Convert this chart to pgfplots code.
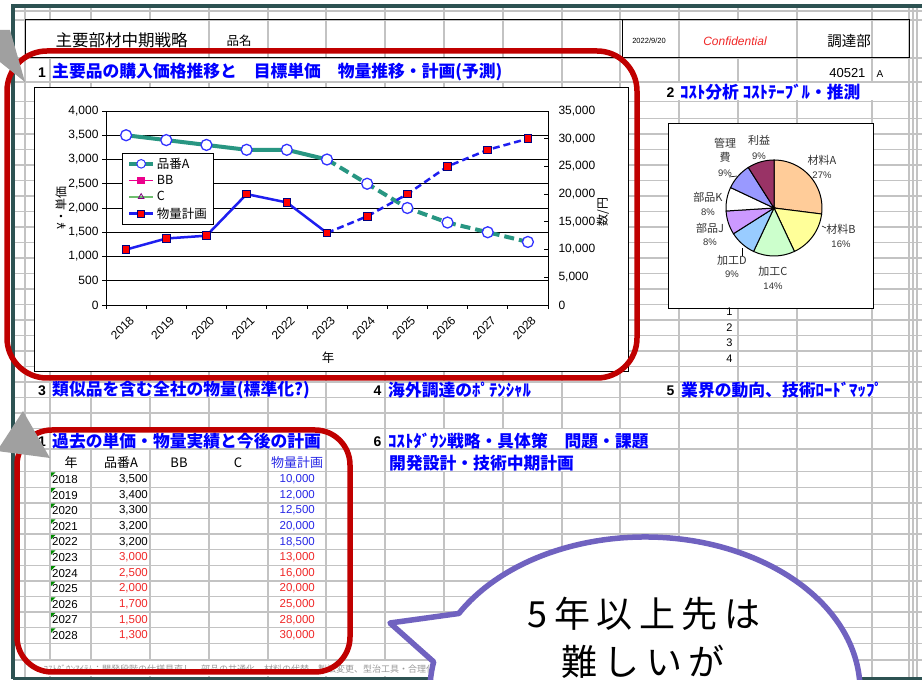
\documentclass[border=0pt]{standalone}
\usepackage{fontspec}
\setmainfont{Liberation Sans}
\newfontfamily\jp{Noto Sans CJK JP}
\newfontfamily\jpls{Noto Sans CJK JP}[LetterSpace=18]
\usepackage{pgfplots}
\usepackage{pgfplotstable}
\pgfplotsset{compat=1.18}

\definecolor{tealA}{RGB}{40,150,130}
\definecolor{mblue}{RGB}{50,50,255}
\definecolor{lblue}{RGB}{30,30,240}
\definecolor{navyE}{RGB}{0,0,128}
\definecolor{frameC}{RGB}{45,82,82}
\definecolor{gridC}{RGB}{195,195,195}
\definecolor{hblue}{RGB}{0,0,255}
\definecolor{dred}{RGB}{192,0,0}
\definecolor{bubC}{RGB}{112,98,192}
\definecolor{tred}{RGB}{240,40,40}
\definecolor{tblue}{RGB}{40,40,230}
\definecolor{arrowC}{RGB}{160,160,160}
\definecolor{cgreen}{RGB}{110,190,110}
\definecolor{pA}{RGB}{255,204,153}
\definecolor{pB}{RGB}{255,255,153}
\definecolor{pC}{RGB}{204,255,204}
\definecolor{pD}{RGB}{153,204,255}
\definecolor{pJ}{RGB}{204,153,255}
\definecolor{pK}{RGB}{255,255,255}
\definecolor{pM}{RGB}{153,153,255}
\definecolor{pR}{RGB}{153,51,102}

\pgfplotstableread{
i yr a b
0 2018 3500 10000
1 2019 3400 12000
2 2020 3300 12500
3 2021 3200 20000
4 2022 3200 18500
5 2023 3000 13000
6 2024 2500 16000
7 2025 2000 20000
8 2026 1700 25000
9 2027 1500 28000
10 2028 1300 30000
}\datatbl

\newcommand\hd[1]{{\jp\bfseries\fontsize{16.8}{18}\selectfont\color{hblue}#1}}
\newcommand\nm[1]{{\bfseries\fontsize{14}{15}\selectfont #1}}
\pgfkeys{/pgf/number format/.cd,1000 sep={,},assume math mode=true}

\begin{document}
\begin{tikzpicture}[x=1pt,y=1pt]
\useasboundingbox (0,0) rectangle (922,680);
\clip (0,0) rectangle (922,680);
\fill[white] (0,0) rectangle (922,680);
\begin{scope}[yshift=680pt,y=-1pt]
% ---- sheet grid
\foreach \yy in {11,20,58,82,101.7,449,660}
  \draw[gridC,line width=1.5pt] (13,\yy)--(922,\yy);
\foreach \k in {0,...,20}{\pgfmathsetmacro\yy{118.3+15.5*\k}
  \draw[gridC,line width=1.5pt] (13,\yy)--(922,\yy);}
\foreach \k in {0,...,11}{\pgfmathsetmacro\yy{471.7+15.6*\k}
  \draw[gridC,line width=1.5pt] (13,\yy)--(922,\yy);}
\foreach \xx in {25,50,91,150,209,268,326,385,444,503,562,620,679,738,797,872,909,913,917}
  \draw[gridC,line width=1.5pt] (\xx,7)--(\xx,678);
% ---- white behind overflowing texts / merged cells
\fill[white] (26,21) rectangle (208,57);
\fill[white] (680,21) rectangle (796,57);
\fill[white] (51,59.5) rectangle (505,80.8);
\fill[white] (678,83) rectangle (875,100.5);
\fill[white] (51,383) rectangle (312,396.3);
\fill[white] (386,383) rectangle (536,396.3);
\fill[white] (680,383) rectangle (888,396.3);
\fill[white] (51,429.5) rectangle (324,448);
\fill[white] (386,429.5) rectangle (648,448);
\fill[white] (387,450.5) rectangle (576,470.7);
\fill[white] (39,661) rectangle (440,676.5);
% ---- header box
\draw[black,line width=1pt] (25,20) rectangle (909,58);
\draw[black,line width=1pt] (622,20)--(622,58);
\node[anchor=west,font=\jp\fontsize{16.5}{18}\selectfont] at (52,40) {主要部材中期戦略};
\node[anchor=west,font=\jp\fontsize{12.5}{14}\selectfont] at (223,41) {品名};
\node[font=\fontsize{7.5}{9}\selectfont] at (649,41) {2022/9/20};
\node[font=\itshape\fontsize{12}{14}\selectfont,text=tred] at (735,41) {Confidential};
\node[font=\jp\fontsize{14.5}{16}\selectfont] at (849,41) {調達部};
% ---- headings
\node[anchor=east] at (49.5,73) {\nm{1}};
\node[anchor=west,inner sep=0pt] at (52,72) {\hd{主要品の購入価格推移と　目標単価　物量推移・計画(予測)}};
\node[anchor=east,font=\fontsize{13}{15}\selectfont] at (869,73) {40521};
\node[anchor=west,font=\fontsize{10}{12}\selectfont] at (873,74) {A};
\node[anchor=east] at (678,93) {\nm{2}};
\node[anchor=west,inner sep=0pt] at (680,92) {\hd{ｺｽﾄ分析 ｺｽﾄﾃｰﾌﾞﾙ・推測}};
\node[anchor=east] at (49.5,391) {\nm{3}};
\node[anchor=west,inner sep=0pt] at (52,390) {\hd{類似品を含む全社の物量(標準化?)}};
\node[anchor=east] at (385,391) {\nm{4}};
\node[anchor=west,inner sep=0pt] at (388,390) {\hd{海外調達のﾎﾟﾃﾝｼｬﾙ}};
\node[anchor=east] at (678,391) {\nm{5}};
\node[anchor=west,inner sep=0pt] at (681,390) {\hd{業界の動向、技術ﾛｰﾄﾞﾏｯﾌﾟ}};
\node[anchor=east] at (49.5,442) {\nm{1}};
\node[anchor=west,inner sep=0pt] at (52,441) {\hd{過去の単価・物量実績と今後の計画}};
\node[anchor=east] at (385,442) {\nm{6}};
\node[anchor=west,inner sep=0pt] at (388,441) {\hd{ｺｽﾄﾀﾞｳﾝ戦略・具体策　問題・課題}};
\node[anchor=west,inner sep=0pt] at (389,463) {\hd{開発設計・技術中期計画}};
% ---- table
\node[font=\jp\fontsize{13}{15}\selectfont] at (71,463) {年};
\node[font=\jp\fontsize{13}{15}\selectfont] at (121,463) {品番A};
\node[font=\jp\fontsize{13}{15}\selectfont] at (179,463) {BB};
\node[font=\jp\fontsize{13}{15}\selectfont] at (238,463) {C};
\node[font=\jp\fontsize{13}{15}\selectfont,text=tblue] at (297,463) {物量計画};
\foreach \k in {0,...,10}{
  \pgfmathsetmacro\yy{479.5+15.6*\k}
  \ifnum\k<5 \def\ca{black}\def\cb{tblue}\else\def\ca{tred}\def\cb{tred}\fi
  \pgfplotstablegetelem{\k}{yr}\of\datatbl \let\vyr\pgfplotsretval
  \pgfplotstablegetelem{\k}{a}\of\datatbl \let\va\pgfplotsretval
  \pgfplotstablegetelem{\k}{b}\of\datatbl \let\vb\pgfplotsretval
  \fill[green!55!black] (51,\yy-7) -- ++(4.5,0) -- ++(-4.5,4.5) -- cycle;
  \node[anchor=west,font=\fontsize{11.5}{13}\selectfont,inner sep=0pt] at (52,\yy) {\vyr};
  \node[anchor=east,font=\fontsize{11.5}{13}\selectfont,inner sep=0pt,text=\ca] at (148,\yy) {\pgfmathprintnumber{\va}};
  \node[anchor=east,font=\fontsize{11.5}{13}\selectfont,inner sep=0pt,text=\cb] at (315,\yy) {\pgfmathprintnumber{\vb}};
}
\node[anchor=west,font=\jp\fontsize{9}{10}\selectfont,text=black!40] at (40,669) {ｺｽﾄﾀﾞｳﾝｱｲﾃﾑ：開発段階の仕様見直し、部品の共通化、材料の代替、製法変更、型治工具・合理化};
% ---- main chart box
\filldraw[fill=white,draw=black,line width=0.9pt] (34,87) rectangle (628,371);
\node[rotate=90,font=\jp\fontsize{12}{14}\selectfont] at (61,208) {¥・単価};
\node[rotate=90,font=\jp\fontsize{12}{14}\selectfont] at (603,212) {数/円};
\node[font=\jp\fontsize{12.5}{14}\selectfont] at (328,358) {年};
% ---- pie box
\filldraw[fill=white,draw=black,line width=0.9pt] (668,123) rectangle (873,308);
\gdef\curang{-90}
\foreach \p/\c in {27/pA,16/pB,14/pC,9/pD,8/pJ,8/pK,9/pM,9/pR}{
  \pgfmathsetmacro\e{\curang+3.6*\p}
  \filldraw[fill=\c,draw=black,line width=1pt] (774,208) -- ++(\curang:48) arc[start angle=\curang,end angle=\e,radius=48] -- cycle;
  \xdef\curang{\e}
}
\begin{scope}[font=\jp\fontsize{11}{12}\selectfont,text=black!80]
\node at (822,160) {材料A}; \node[font=\fontsize{9.5}{11}\selectfont] at (822,175) {27\%};
\node at (841,229) {材料B}; \node[font=\fontsize{9.5}{11}\selectfont] at (841,244) {16\%};
\node at (773,271) {加工C}; \node[font=\fontsize{9.5}{11}\selectfont] at (773,286) {14\%};
\node at (732,260) {加工D}; \node[font=\fontsize{9.5}{11}\selectfont] at (732,274) {9\%};
\node at (710,228) {部品J}; \node[font=\fontsize{9.5}{11}\selectfont] at (710,242) {8\%};
\node at (708,197) {部品K}; \node[font=\fontsize{9.5}{11}\selectfont] at (708,212) {8\%};
\node at (725,143) {管理}; \node at (725,157) {費}; \node[font=\fontsize{9.5}{11}\selectfont] at (725,173) {9\%};
\node at (759,140) {利益}; \node[font=\fontsize{9.5}{11}\selectfont] at (759,156) {9\%};
\end{scope}
\draw[black,line width=0.6pt] (729,177)--(737,176);
\draw[black,line width=0.6pt] (742,248)--(742,256);
\draw[black,line width=0.6pt] (822,226)--(826,228);
\foreach \n/\yy in {1/312,2/328,3/343,4/359}
  \node[anchor=east,font=\fontsize{11}{12}\selectfont] at (736,\yy) {\n};
\end{scope}

% ================= main chart axes
\begin{axis}[
  at={(106pt,375pt)}, anchor=south west, scale only axis,
  width=442pt, height=194pt,
  xmin=-0.5, xmax=10.5, ymin=0, ymax=4000,
  xtick={0,...,10},
  xticklabels={2018,2019,2020,2021,2022,2023,2024,2025,2026,2027,2028},
  minor xtick={-0.5,0.5,...,10.5},
  major x tick style={draw=none},
  xtick pos=left, ytick pos=left, tick align=outside,
  ytick={0,500,...,4000},
  ymajorgrids, grid style={black,line width=0.9pt},
  axis line style={black,line width=0.9pt},
  tick style={black,line width=0.8pt},
  major tick length=4pt, minor tick length=4pt,
  yticklabel style={font=\fontsize{12}{14}\selectfont,/pgf/number format/1000 sep={,}},
  xticklabel style={font=\fontsize{12}{14}\selectfont,rotate=45,anchor=north east,xshift=1pt,yshift=-3pt},
  scaled y ticks=false, clip=false,
]
\addplot[tealA,line width=4pt,restrict x to domain=0:5] table[x=i,y=a]{\datatbl};
\addplot[tealA,line width=4pt,dash pattern=on 10pt off 5pt,restrict x to domain=5:10] table[x=i,y=a]{\datatbl};
\addplot[only marks,mark=*,mark size=5.5pt,mark options={fill=white,draw=mblue,line width=1.3pt}] table[x=i,y=a]{\datatbl};
\end{axis}
\begin{axis}[
  at={(106pt,375pt)}, anchor=south west, scale only axis,
  width=442pt, height=194pt,
  xmin=-0.5, xmax=10.5, ymin=0, ymax=35000,
  axis y line*=right, axis x line=none,
  ytick={0,5000,...,35000}, tick align=inside,
  axis line style={black,line width=0.9pt},
  tick style={black,line width=0.8pt},
  major tick length=4pt,
  yticklabel style={font=\fontsize{12}{14}\selectfont,xshift=7pt,/pgf/number format/1000 sep={,}},
  scaled y ticks=false, clip=false,
  legend style={at={(0.0362,0.7835)},anchor=north west,draw=black,line width=0.8pt,fill=white,
    font=\jp\fontsize{12.5}{13}\selectfont,inner xsep=5pt,inner ysep=2.5pt,row sep=1.5pt},
  legend cell align=left,
  legend image code/.code={\draw[mark repeat=2,mark phase=2] plot coordinates {(0pt,0pt) (12pt,0pt) (24pt,0pt)};},
]
\addlegendimage{tealA,line width=3.5pt,mark=*,mark size=4.3pt,mark options={fill=white,draw=mblue,line width=1pt}}
\addlegendentry{品番A}
\addlegendimage{magenta,line width=1.5pt,mark=square*,mark size=3pt,mark options={fill=magenta,draw=magenta}}
\addlegendentry{BB}
\addlegendimage{cgreen,line width=1.5pt,mark=triangle,mark size=3.2pt,mark options={draw=violet,fill=white,line width=0.8pt}}
\addlegendentry{C}
\addlegendimage{lblue,line width=2.5pt,mark=square*,mark size=3.5pt,mark options={fill=red,draw=navyE,line width=0.9pt}}
\addlegendentry{物量計画}
\addplot[lblue,line width=2.5pt,restrict x to domain=0:5,forget plot] table[x=i,y=b]{\datatbl};
\addplot[lblue,line width=2.5pt,dash pattern=on 7pt off 4pt,restrict x to domain=5:10,forget plot] table[x=i,y=b]{\datatbl};
\addplot[only marks,mark=square*,mark size=3.8pt,mark options={fill=red,draw=navyE,line width=0.9pt},forget plot] table[x=i,y=b]{\datatbl};
\end{axis}

\begin{scope}[yshift=680pt,y=-1pt]
% frame
\draw[frameC,line width=3.5pt] (13,679) -- (13,6) -- (922,6);
\draw[frameC,line width=3pt] (13,678.5) -- (922,678.5);
% red rounded rectangles
\draw[dred,line width=5.5pt,rounded corners=40pt] (7,51) rectangle (637,378);
\draw[dred,line width=5.5pt,rounded corners=35pt] (17,430) rectangle (350,672);
% gray arrows
\fill[arrowC] (0,30) -- (10,30) -- (25,82) -- (0,62) -- cycle;
\fill[arrowC] (23,411) -- (50,458) -- (-3,451) -- cycle;
% speech bubble
\filldraw[draw=bubC,fill=white,line width=5.5pt,line join=round]
  (458.8,613.5) arc[start angle=210,end angle=550.6,x radius=215,y radius=153] -- (390,623) -- cycle;
\node[font=\jpls\fontsize{36}{40}\selectfont] at (644,614) {5年以上先は};
\node[font=\jpls\fontsize{36}{40}\selectfont] at (643,662) {難しいが};
\end{scope}
\end{tikzpicture}
\end{document}
